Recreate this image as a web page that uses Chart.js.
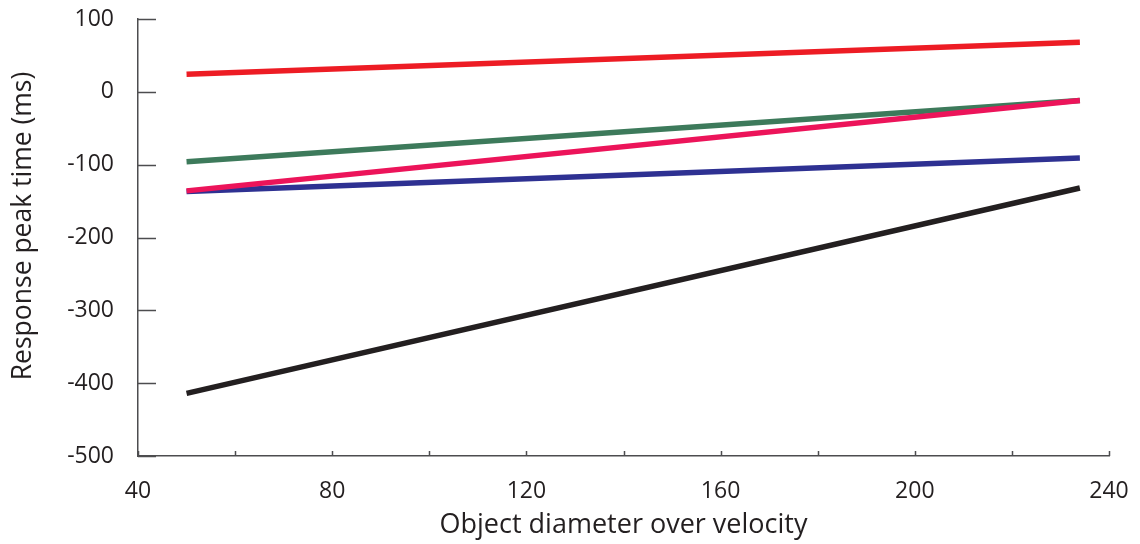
<!DOCTYPE html>
<html>
<head>
<meta charset="utf-8">
<script src="https://cdn.jsdelivr.net/npm/chart.js@4.4.1/dist/chart.umd.min.js"></script>
<style>
html,body{margin:0;padding:0;background:#fff;}
canvas{display:block;}
</style>
</head>
<body>
<canvas id="c" width="1140" height="544"></canvas>
<script>
// ---- data ----
const xValues = [50, 234];
const redSeries = [24, 68];
const pinkSeries = [-136, -12];
const greenSeries = [-96, -12];
const blueSeries = [-137, -91];
const blackSeries = [-414, -132];
const xTickLabels = [40, 80, 120, 160, 200, 240];
const yTickLabels = [100, 0, -100, -200, -300, -400, -500];
const xTitle = 'Object diameter over velocity';
const yTitle = 'Response peak time (ms)';

const FONT = '"Open Sans", "Noto Sans", sans-serif';
const TXT = '#231f20';
const AX = '#4d4d4f';

function pts(ys){ return xValues.map((x,i)=>({x:x, y:ys[i]})); }
function ds(ys, color, order){
  return {data: pts(ys), borderColor: color, borderWidth: 5.5, pointRadius: 0,
          fill: false, tension: 0, order: order, borderCapStyle: 'butt'};
}

const inwardTicks = {
  id: 'inwardTicks',
  afterDraw(chart){
    const ctx = chart.ctx;
    const xs = chart.scales.x, ys = chart.scales.y;
    ctx.save();
    ctx.strokeStyle = AX;
    ctx.lineWidth = 1.5;
    ctx.beginPath();
    ys.ticks.forEach(t=>{
      const p = Math.round(ys.getPixelForValue(t.value)) + 0.5;
      ctx.moveTo(xs.left, p); ctx.lineTo(xs.left + 18, p);
    });
    xs.ticks.forEach(t=>{
      const p = Math.round(xs.getPixelForValue(t.value)) + 0.5;
      ctx.moveTo(p, ys.bottom); ctx.lineTo(p, ys.bottom - 5);
    });
    ctx.stroke();
    // y axis title
    ctx.fillStyle = TXT;
    ctx.font = '26.5px ' + FONT;
    ctx.textAlign = 'center';
    ctx.textBaseline = 'middle';
    ctx.translate(23, 226);
    ctx.rotate(-Math.PI/2);
    ctx.fillText(yTitle, 0, 0);
    ctx.restore();
  }
};

new Chart(document.getElementById('c'), {
  type: 'line',
  data: {
    datasets: [
      ds(redSeries, '#ed1c24', 1),
      ds(pinkSeries, '#ec145a', 2),
      ds(greenSeries, '#3d7a5b', 3),
      ds(blueSeries, '#2e3192', 4),
      ds(blackSeries, '#231f20', 5)
    ]
  },
  options: {
    responsive: false,
    devicePixelRatio: 1,
    animation: false,
    layout: {padding: {left: 0, top: 19, right: 31, bottom: 0}},
    plugins: {legend: {display: false}, tooltip: {enabled: false}},
    scales: {
      x: {
        type: 'linear', min: 40, max: 240,
        afterFit(s){ s.height = 88; s.paddingLeft = 0; s.paddingRight = 0; },
        border: {display: true, color: AX, width: 1.5},
        grid: {display: true, drawOnChartArea: false, drawTicks: false, color: 'rgba(0,0,0,0)'},
        ticks: {
          stepSize: 20, autoSkip: false, maxRotation: 0, padding: 22,
          color: TXT, font: {family: FONT, size: 23},
          callback: (v)=> xTickLabels.includes(v) ? String(v) : ''
        },
        title: {display: true, text: xTitle, color: TXT, font: {family: FONT, size: 27},
                padding: {top: 0, bottom: 2}}
      },
      y: {
        type: 'linear', min: -500, max: 100,
        afterFit(s){ s.width = 138; s.paddingTop = 0; s.paddingBottom = 0; },
        border: {display: true, color: AX, width: 1.5},
        grid: {display: true, drawOnChartArea: false, drawTicks: false, color: 'rgba(0,0,0,0)'},
        ticks: {
          stepSize: 100, autoSkip: false, padding: 24,
          color: TXT, font: {family: FONT, size: 23},
          callback: (v)=> yTickLabels.includes(v) ? String(v) : ''
        }
      }
    }
  },
  plugins: [inwardTicks]
});
</script>
</body>
</html>
